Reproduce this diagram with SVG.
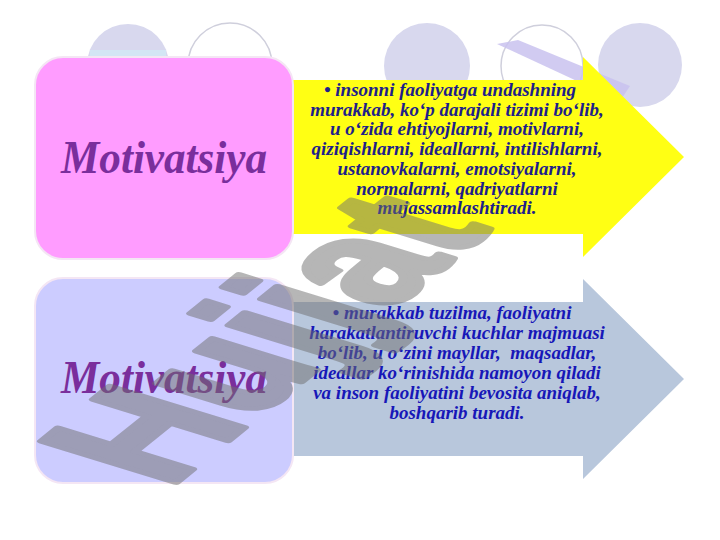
<svg xmlns="http://www.w3.org/2000/svg" width="720" height="540" viewBox="0 0 720 540">
  <style>
    .bg-fill { fill: #d8d8ee; }
    .bg-ring { fill: #ffffff; stroke: #cfcfdc; stroke-width: 1.5; }
    .box { stroke: #f4e6f4; stroke-width: 2; }
    .title { font-family: "Liberation Serif", "Times New Roman", serif; font-weight: bold; font-style: italic; font-size: 46px; fill: #7a2e9c; text-anchor: middle; }
    .body { font-family: "Liberation Serif", "Times New Roman", serif; font-weight: bold; font-style: italic; font-size: 19px; text-anchor: middle; }
    .body1 { fill: #1e1e8a; }
    .body2 { fill: #1717b8; }
    .wm { font-family: "Liberation Sans", Arial, sans-serif; font-weight: bold; font-size: 100px; fill: #6f6f6f; stroke: #6f6f6f; stroke-width: 4; stroke-linejoin: round; opacity: 0.5; }
  </style>

  <rect width="720" height="540" fill="#ffffff"/>

  <g id="background">
    <circle class="bg-fill" cx="128" cy="65" r="41"/>
    <rect x="90" y="50" width="76" height="6" fill="#d3e6f4"/>
    <circle class="bg-ring" cx="230" cy="65" r="42"/>
    <circle class="bg-fill" cx="427" cy="66" r="43"/>
    <circle class="bg-ring" cx="542" cy="66" r="41"/>
    <circle class="bg-fill" cx="640" cy="65" r="42"/>
    <polygon points="497,44 518,40 630,86 620,101" fill="#c9c2ee" opacity="0.85"/>
  </g>

  <g id="connectors">
    <path id="arrow-top" d="M293,80 H583 V57 L684,157 L583,257 V234 H293 Z" fill="#ffff14"/>
    <path id="arrow-bottom" d="M293,302 H583 V279 L684,379 L583,479 V456 H293 Z" fill="#b8c7dc"/>
  </g>

  <g id="node-top">
    <rect class="box" x="35" y="57" width="258" height="202" rx="28" fill="#ff9cff"/>
    <text class="title" x="164" y="173" textLength="206" lengthAdjust="spacingAndGlyphs">Motivatsiya</text>
  </g>

  <g id="node-top-text" class="body body1">
    <text x="450" y="96">• insonni faoliyatga undashning</text>
    <text x="457" y="115.7">murakkab, ko‘p darajali tizimi bo‘lib,</text>
    <text x="457" y="135.4">u o‘zida ehtiyojlarni, motivlarni,</text>
    <text x="457" y="155.1">qiziqishlarni, ideallarni, intilishlarni,</text>
    <text x="457" y="174.8">ustanovkalarni, emotsiyalarni,</text>
    <text x="457" y="194.5">normalarni, qadriyatlarni</text>
    <text x="457" y="214.2">mujassamlashtiradi.</text>
  </g>

  <g id="node-bottom">
    <rect class="box" x="35" y="278" width="258" height="205" rx="28" fill="#ccccff"/>
    <text class="title" x="164" y="393" textLength="206" lengthAdjust="spacingAndGlyphs">Motivatsiya</text>
  </g>

  <g id="node-bottom-text" class="body body2">
    <text x="452" y="319">• murakkab tuzilma, faoliyatni</text>
    <text x="457" y="339">harakatlantiruvchi kuchlar majmuasi</text>
    <text x="457" y="359">bo‘lib, u o‘zini mayllar, &#160;maqsadlar,</text>
    <text x="457" y="379">ideallar ko‘rinishida namoyon qiladi</text>
    <text x="457" y="399">va inson faoliyatini bevosita aniqlab,</text>
    <text x="457" y="419">boshqarib turadi.</text>
  </g>

  <g id="watermark">
    <text class="wm" transform="matrix(1.17,-0.94,1.955,0.60,168,489)">Hujjat</text>
  </g>
</svg>
